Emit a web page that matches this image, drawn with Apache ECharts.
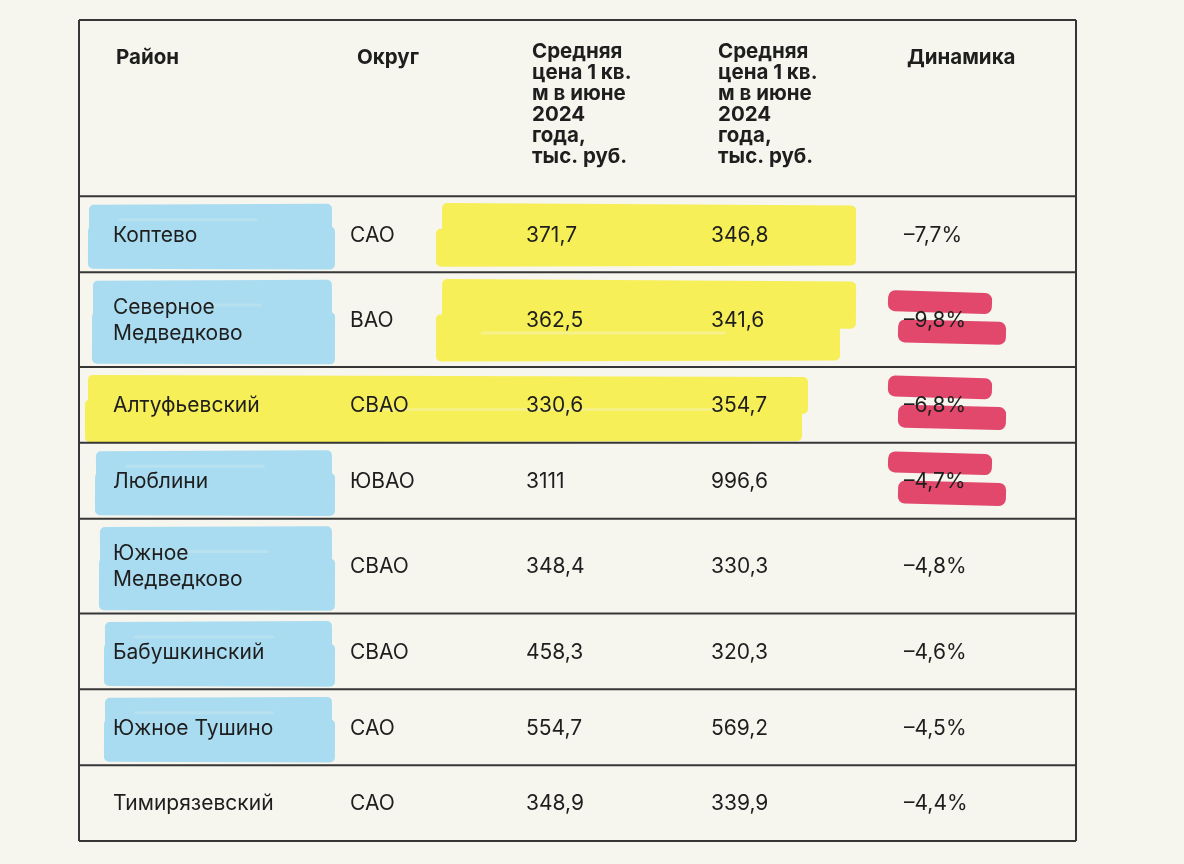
<!DOCTYPE html>
<html><head><meta charset="utf-8">
<script src="https://cdn.jsdelivr.net/npm/echarts@6/dist/echarts.min.js"></script>
<style>html,body{margin:0;padding:0;background:#f6f5ee}#c{width:1184px;height:864px}</style>
</head><body><div id="c"></div>
<script>
// ---- data ----
const headers = ['Район', 'Округ',
  'Средняя\nцена 1 кв.\nм в июне\n2024\nгода,\nтыс. руб.',
  'Средняя\nцена 1 кв.\nм в июне\n2024\nгода,\nтыс. руб.',
  'Динамика'];
const districts = ['Коптево', 'Северное\nМедведково', 'Алтуфьевский', 'Люблини',
  'Южное\nМедведково', 'Бабушкинский', 'Южное Тушино', 'Тимирязевский'];
const okrugs = ['САО', 'ВАО', 'СВАО', 'ЮВАО', 'СВАО', 'СВАО', 'САО', 'САО'];
const priceA = [371.7, 362.5, 330.6, 3111, 348.4, 458.3, 554.7, 348.9];
const priceB = [346.8, 341.6, 354.7, 996.6, 330.3, 320.3, 569.2, 339.9];
const dynamics = [-7.7, -9.8, -6.8, -4.7, -4.8, -4.6, -4.5, -4.4];
const blueRows = [0, 1, 3, 4, 5, 6];
const yellowPriceRows = [0, 1];
const yellowFullRows = [2];
const redRows = [1, 2, 3];

// ---- formatting ----
const fmtNum = v => Number.isInteger(v) ? String(v) : v.toFixed(1).replace('.', ',');
const fmtPct = v => (v < 0 ? '–' : '') + Math.abs(v).toFixed(1).replace('.', ',') + '%';

// ---- layout (style) ----
const TABLE_W = 997;
const HEADER_SPAN = 9.3;
const spans = [HEADER_SPAN].concat(districts.map(d => d.split('\n').length + 3));
const bounds = [0];
spans.forEach(s => bounds.push(bounds[bounds.length - 1] + s));
const TOTAL = bounds[bounds.length - 1];
const colStart = [34, 271, 447, 632, 825];
const headDx = [3, 7, 6, 7, 3];

const FONT = 'Inter, Roboto, "Noto Sans", sans-serif';
const INK = '#1e1e1e';
const BLUE = '#a9dcf0';
const YELLOW = '#f6ef57';
const RED = '#e1486c';
const PAPER = '#f6f5ee';

const rowTexts = [headers].concat(districts.map((d, i) =>
  [d, okrugs[i], fmtNum(priceA[i]), fmtNum(priceB[i]), fmtPct(dynamics[i])]));

function rowPix(api, r) {
  const top = api.coord([0, bounds[r]])[1];
  const bot = api.coord([0, bounds[r + 1]])[1];
  return {top, bot, mid: (top + bot) / 2};
}
function colPix(api, c) { return api.coord([colStart[c], 0])[0]; }

function stroke(x0, x1, y0, y1, color, rot, r) {
  return {
    type: 'rect',
    shape: {x: x0, y: y0, width: x1 - x0, height: y1 - y0, r: r || 5},
    style: {fill: color},
    rotation: rot || 0,
    originX: (x0 + x1) / 2, originY: (y0 + y1) / 2
  };
}
function streak(x0, x1, y, h, op) {
  return {type: 'rect', shape: {x: x0, y: y, width: x1 - x0, height: h, r: h / 2},
    style: {fill: PAPER, opacity: op}};
}

const blueShift = [0, 4, 7, 11, 16, 16];

function renderHighlights(params, api) {
  const body = params.dataIndex;
  const rp = rowPix(api, body + 1);
  const cx = [0, 1, 2, 3, 4].map(c => colPix(api, c));
  const kids = [];
  const bi = blueRows.indexOf(body);
  if (bi >= 0) {
    const s = blueShift[bi];
    const x0 = cx[0] - 25 + s, x1 = cx[1] - 15;
    kids.push(stroke(x0 + 1, x1 - 3, rp.top + 8, rp.mid + 8, BLUE, 0.004));
    kids.push(stroke(x0, x1, rp.mid - 8, rp.bot - 3, BLUE, -0.003));
    kids.push(streak(x0 + 30, x0 + 170, rp.mid - 16, 3, 0.2));
  }
  if (yellowPriceRows.indexOf(body) >= 0) {
    const x0 = cx[2] - 90, x1 = cx[4] - 48;
    kids.push(stroke(x0 + 6, x1, rp.top + 8, rp.mid + 8, YELLOW, -0.006));
    kids.push(stroke(x0, x1 - 16 * body, rp.mid - 6, rp.bot - 6, YELLOW, 0.003));
    if (body === 1) kids.push(streak(x0 + 45, x0 + 290, rp.mid + 12, 3, 0.35));
  }
  if (yellowFullRows.indexOf(body) >= 0) {
    const x0 = cx[0] - 28, x1 = cx[3] + 97;
    kids.push(stroke(x0 + 3, x1, rp.top + 9, rp.mid + 8, YELLOW, -0.003));
    kids.push(stroke(x0, x1 - 6, rp.mid - 6, rp.bot - 1, YELLOW, 0.002));
    kids.push(streak(cx[1] + 10, cx[3] + 10, rp.mid + 3, 3, 0.3));
  }
  if (redRows.indexOf(body) >= 0) {
    const x = cx[4], m = rp.mid;
    kids.push(stroke(x - 16, x + 88, m - 28, m - 7, RED, -0.03, 7));
    kids.push(stroke(x - 6, x + 102, m + 1, m + 24, RED, -0.025, 7));
  }
  return {type: 'group', children: kids};
}

function renderRules(params, api) {
  const i = params.dataIndex;
  const y = api.coord([0, bounds[i]])[1];
  const x0 = api.coord([0, 0])[0], x1 = api.coord([TABLE_W, 0])[0];
  const kids = [{type: 'line', shape: {x1: x0, y1: y, x2: x1, y2: y},
    style: {stroke: '#363636', lineWidth: 2}}];
  if (i === 0) {
    const yb = api.coord([0, TOTAL])[1];
    kids.push({type: 'line', shape: {x1: x0, y1: y, x2: x0, y2: yb}, style: {stroke: '#363636', lineWidth: 2}});
    kids.push({type: 'line', shape: {x1: x1, y1: y, x2: x1, y2: yb}, style: {stroke: '#363636', lineWidth: 2}});
  }
  return {type: 'group', children: kids};
}

function renderCells(params, api) {
  const r = params.dataIndex;
  const rp = rowPix(api, r);
  const texts = rowTexts[r];
  const kids = texts.map((t, c) => {
    const x = colPix(api, c);
    if (r === 0) {
      const multi = t.indexOf('\n') >= 0;
      return {type: 'text', style: {text: t, x: x + headDx[c], y: rp.top + (multi ? 21 : 27),
        fill: INK, font: '700 20.5px ' + FONT, lineHeight: 21, verticalAlign: 'top', align: 'left'}};
    }
    return {type: 'text', style: {text: t, x: x, y: rp.mid + 1,
      fill: INK, font: '400 21px ' + FONT, lineHeight: 26, verticalAlign: 'middle', align: 'left'}};
  });
  return {type: 'group', children: kids};
}

const chart = echarts.init(document.getElementById('c'));
chart.setOption({
  backgroundColor: PAPER,
  animation: false,
  grid: {left: 79, top: 20, width: TABLE_W, height: 821},
  xAxis: {type: 'value', min: 0, max: TABLE_W, show: false},
  yAxis: {type: 'value', min: 0, max: TOTAL, inverse: true, show: false},
  series: [
    {type: 'custom', name: 'highlights', clip: false, z: 1, renderItem: renderHighlights,
      data: districts.map((d, i) => [0, bounds[i + 1]])},
    {type: 'custom', name: 'rules', clip: false, z: 2, renderItem: renderRules,
      data: bounds.map(b => [0, b])},
    {type: 'custom', name: 'cells', clip: false, z: 3, renderItem: renderCells,
      data: rowTexts.map((t, i) => [0, bounds[i]])}
  ]
});
</script></body></html>
